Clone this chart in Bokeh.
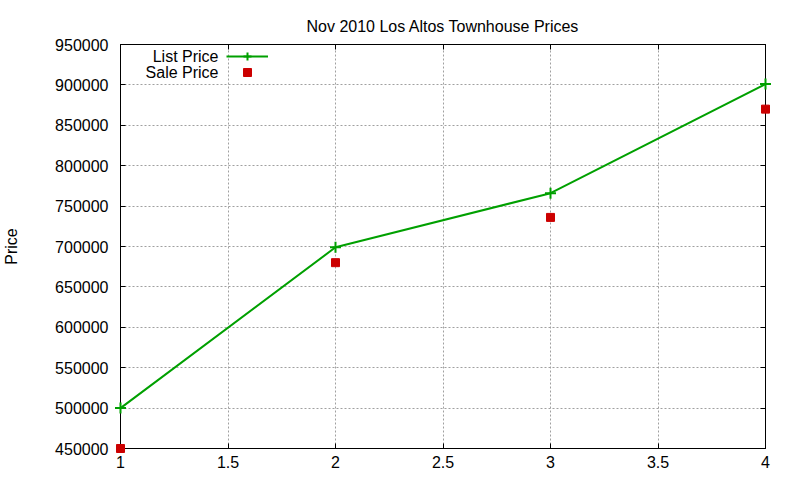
from bokeh.plotting import figure
from bokeh.models import (Range1d, LinearAxis, FixedTicker, Legend, LegendItem, Label)
from bokeh.embed import file_html
from bokeh.resources import INLINE

# ---- data ----
x_values = [1, 2, 3, 4]
list_price = [500000, 699000, 766000, 901000]
sale_price = [450000, 680000, 736000, 870000]
x_ticks = [1, 1.5, 2, 2.5, 3, 3.5, 4]
x_tick_labels = ["1", "1.5", "2", "2.5", "3", "3.5", "4"]
y_ticks = [450000, 500000, 550000, 600000, 650000, 700000, 750000, 800000, 850000, 900000, 950000]
y_tick_labels = ["450000", "500000", "550000", "600000", "650000", "700000",
                 "750000", "800000", "850000", "900000", "950000"]
title_text = "Nov 2010 Los Altos Townhouse Prices"
y_label = "Price"
series_names = ["List Price", "Sale Price"]

FONT = "Liberation Sans"
FS = "16px"
GREEN = "#00a000"
RED = "#cc0000"

p = figure(width=800, height=480,
           x_range=Range1d(x_ticks[0], x_ticks[-1]),
           y_range=Range1d(y_ticks[0], y_ticks[-1]),
           output_backend="svg", toolbar_location=None,
           min_border_left=119, min_border_right=35,
           min_border_top=44, min_border_bottom=32,
           background_fill_color="white", border_fill_color="white")

p.title.text = title_text
p.title.align = "center"
p.title.text_font = FONT
p.title.text_font_size = FS
p.title.text_font_style = "normal"
p.title.text_color = "black"
p.title.standoff = 19

p.outline_line_color = "black"
p.outline_line_width = 1
p.outline_line_alpha = 1

def style_axis(ax, ticks, labels=None, show_labels=True):
    ax.ticker = FixedTicker(ticks=ticks)
    ax.major_tick_in = 5
    ax.major_tick_out = 0
    ax.major_tick_line_color = "black"
    ax.minor_tick_line_color = None
    ax.axis_line_color = "black"
    if show_labels:
        ax.major_label_overrides = {t: l for t, l in zip(ticks, labels)}
        ax.major_label_text_font = FONT
        ax.major_label_text_font_size = FS
        ax.major_label_text_color = "black"
    else:
        ax.major_label_text_font_size = "1px"
        ax.major_label_text_color = None
        ax.major_label_standoff = 0

style_axis(p.xaxis[0], x_ticks, x_tick_labels)
p.xaxis[0].major_label_standoff = 7
style_axis(p.yaxis[0], y_ticks, y_tick_labels)
p.yaxis[0].major_label_standoff = 12
p.yaxis[0].axis_label = y_label
p.yaxis[0].axis_label_text_font = FONT
p.yaxis[0].axis_label_text_font_size = FS
p.yaxis[0].axis_label_text_font_style = "normal"
p.yaxis[0].axis_label_text_color = "black"
p.yaxis[0].axis_label_standoff = 32

ra = LinearAxis()
style_axis(ra, y_ticks, show_labels=False)
p.add_layout(ra, "right")
ta = LinearAxis()
style_axis(ta, x_ticks, show_labels=False)
p.add_layout(ta, "above")

p.xgrid.ticker = FixedTicker(ticks=x_ticks)
p.ygrid.ticker = FixedTicker(ticks=y_ticks)
for g in (p.xgrid[0], p.ygrid[0]):
    g.grid_line_color = "#a0a0a0"
    g.grid_line_dash = "2 2"
    g.grid_line_width = 1

ln = p.line(x_values, list_price, line_color=GREEN, line_width=2, level="overlay")
lm = p.scatter(x_values, list_price, marker="cross", size=11, line_color=GREEN,
               line_width=2, level="overlay")
sm = p.scatter(x_values, sale_price, marker="square", size=8, fill_color=RED,
               line_color=RED, level="overlay")

legend_renderers = [[ln, lm], [sm]]
legend_offsets = [382, 366]
for rends, vy in zip(legend_renderers, legend_offsets):
    lg = Legend(items=[LegendItem(label=" ", renderers=rends)],
                location=(106, vy), padding=0, margin=0, spacing=0,
                glyph_width=42, glyph_height=20, label_height=20, label_width=0,
                label_standoff=0, label_text_font_size="1px", label_text_color=None,
                border_line_color=None, background_fill_alpha=0)
    p.add_layout(lg)

for name, yy in zip(series_names, (392, 376)):
    p.add_layout(Label(x=98, y=yy, x_units="screen", y_units="screen", text=name,
                       text_align="right", text_baseline="middle",
                       text_font=FONT, text_font_size=FS, text_color="black"))

open("out.html", "w").write(file_html(p, INLINE))
